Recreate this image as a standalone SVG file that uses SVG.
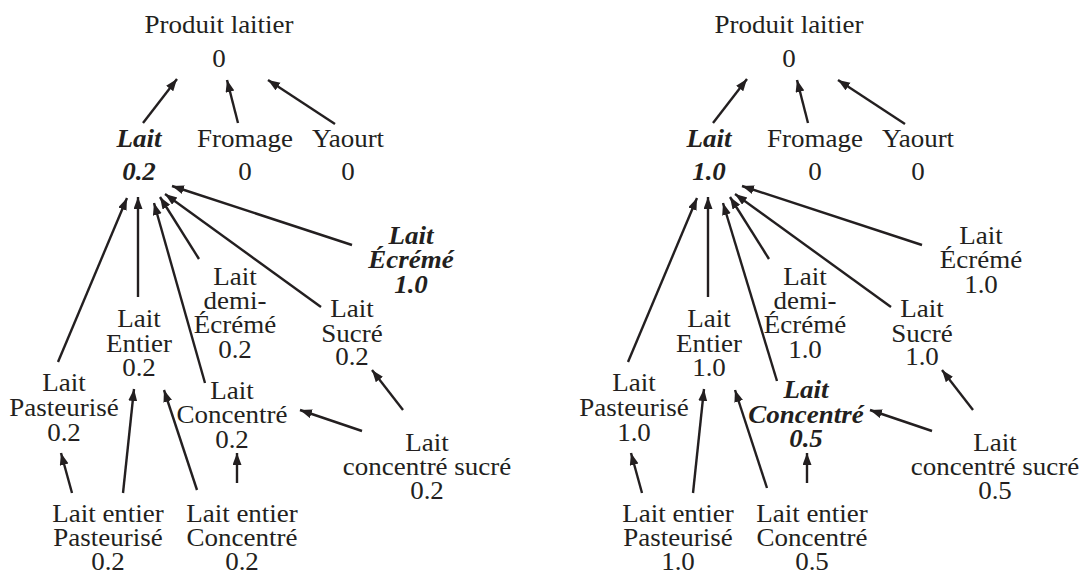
<svg xmlns="http://www.w3.org/2000/svg" width="1082" height="575" viewBox="0 0 1082 575">
<style>
.t{font-family:"Liberation Serif","Times New Roman",serif;font-size:25px;fill:#231f20;text-anchor:middle}
.bi{font-weight:bold;font-style:italic}
.e{stroke:#231f20;stroke-width:2.4;fill:none;marker-end:url(#ah)}
</style>
<defs>
<marker id="ah" markerUnits="userSpaceOnUse" markerWidth="13" markerHeight="10" refX="12" refY="4.5" orient="auto">
<path d="M0,0 L12,4.5 L0,9 z" fill="#231f20"/>
</marker>
</defs>
<rect width="1082" height="575" fill="#fff"/>
<g id="connectors">
<line class="e" x1="143" y1="123" x2="177" y2="79"/>
<line class="e" x1="238" y1="123" x2="227" y2="80"/>
<line class="e" x1="335" y1="124" x2="268" y2="80"/>
<line class="e" x1="58" y1="362" x2="127" y2="198"/>
<line class="e" x1="138" y1="297" x2="138" y2="197"/>
<line class="e" x1="205" y1="383" x2="154" y2="203"/>
<line class="e" x1="199" y1="259" x2="160" y2="197"/>
<line class="e" x1="321" y1="307" x2="165" y2="194"/>
<line class="e" x1="352" y1="245" x2="172" y2="186"/>
<line class="e" x1="72" y1="493" x2="61" y2="453"/>
<line class="e" x1="123" y1="493" x2="134" y2="389"/>
<line class="e" x1="197" y1="490" x2="164" y2="390"/>
<line class="e" x1="237" y1="483" x2="237" y2="453"/>
<line class="e" x1="362" y1="431" x2="300" y2="410"/>
<line class="e" x1="403" y1="410" x2="372" y2="370"/>
<line class="e" x1="713" y1="123" x2="747" y2="79"/>
<line class="e" x1="808" y1="123" x2="797" y2="80"/>
<line class="e" x1="905" y1="124" x2="838" y2="80"/>
<line class="e" x1="628" y1="362" x2="697" y2="198"/>
<line class="e" x1="708" y1="297" x2="708" y2="197"/>
<line class="e" x1="777" y1="381" x2="723" y2="203"/>
<line class="e" x1="769" y1="259" x2="730" y2="197"/>
<line class="e" x1="891" y1="307" x2="735" y2="194"/>
<line class="e" x1="922" y1="245" x2="742" y2="186"/>
<line class="e" x1="642" y1="493" x2="631" y2="453"/>
<line class="e" x1="693" y1="493" x2="704" y2="389"/>
<line class="e" x1="767" y1="488" x2="735" y2="390"/>
<line class="e" x1="807" y1="483" x2="807" y2="453"/>
<line class="e" x1="932" y1="431" x2="870" y2="410"/>
<line class="e" x1="973" y1="410" x2="942" y2="370"/>
</g>
<g id="L-produit" transform="translate(219 0) scale(1.08 1)"><text class="t"><tspan x="0" y="33">Produit laitier</tspan><tspan x="0" y="67">0</tspan></text></g>
<g id="L-lait" transform="translate(139 0) scale(1.08 1)"><text class="t bi"><tspan x="0" y="147">Lait</tspan><tspan x="0" y="180">0.2</tspan></text></g>
<g id="L-fromage" transform="translate(245 0) scale(1.08 1)"><text class="t"><tspan x="0" y="147">Fromage</tspan><tspan x="0" y="180">0</tspan></text></g>
<g id="L-yaourt" transform="translate(348 0) scale(1.08 1)"><text class="t"><tspan x="0" y="147">Yaourt</tspan><tspan x="0" y="180">0</tspan></text></g>
<g id="L-ecreme" transform="translate(411 0) scale(1.08 1)"><text class="t bi"><tspan x="0" y="244">Lait</tspan><tspan x="0" y="268">Écrémé</tspan><tspan x="0" y="293">1.0</tspan></text></g>
<g id="L-demi" transform="translate(235 0) scale(1.08 1)"><text class="t"><tspan x="0" y="285">Lait</tspan><tspan x="0" y="309">demi-</tspan><tspan x="0" y="333">Écrémé</tspan><tspan x="0" y="358">0.2</tspan></text></g>
<g id="L-sucre" transform="translate(352 0) scale(1.08 1)"><text class="t"><tspan x="0" y="317">Lait</tspan><tspan x="0" y="342">Sucré</tspan><tspan x="0" y="365">0.2</tspan></text></g>
<g id="L-entier" transform="translate(139 0) scale(1.08 1)"><text class="t"><tspan x="0" y="327">Lait</tspan><tspan x="0" y="352">Entier</tspan><tspan x="0" y="376">0.2</tspan></text></g>
<g id="L-pasteurise" transform="translate(64 0) scale(1.08 1)"><text class="t"><tspan x="0" y="391">Lait</tspan><tspan x="0" y="416">Pasteurisé</tspan><tspan x="0" y="441">0.2</tspan></text></g>
<g id="L-concentre" transform="translate(232 0) scale(1.08 1)"><text class="t"><tspan x="0" y="399">Lait</tspan><tspan x="0" y="423">Concentré</tspan><tspan x="0" y="448">0.2</tspan></text></g>
<g id="L-concsucre" transform="translate(427 0) scale(1.08 1)"><text class="t"><tspan x="0" y="451">Lait</tspan><tspan x="0" y="475">concentré sucré</tspan><tspan x="0" y="499">0.2</tspan></text></g>
<g id="L-entpast" transform="translate(108 0) scale(1.08 1)"><text class="t"><tspan x="0" y="522">Lait entier</tspan><tspan x="0" y="546">Pasteurisé</tspan><tspan x="0" y="570">0.2</tspan></text></g>
<g id="L-entconc" transform="translate(242 0) scale(1.08 1)"><text class="t"><tspan x="0" y="522">Lait entier</tspan><tspan x="0" y="546">Concentré</tspan><tspan x="0" y="570">0.2</tspan></text></g>
<g id="R-produit" transform="translate(789 0) scale(1.08 1)"><text class="t"><tspan x="0" y="33">Produit laitier</tspan><tspan x="0" y="67">0</tspan></text></g>
<g id="R-lait" transform="translate(709 0) scale(1.08 1)"><text class="t bi"><tspan x="0" y="147">Lait</tspan><tspan x="0" y="180">1.0</tspan></text></g>
<g id="R-fromage" transform="translate(815 0) scale(1.08 1)"><text class="t"><tspan x="0" y="147">Fromage</tspan><tspan x="0" y="180">0</tspan></text></g>
<g id="R-yaourt" transform="translate(918 0) scale(1.08 1)"><text class="t"><tspan x="0" y="147">Yaourt</tspan><tspan x="0" y="180">0</tspan></text></g>
<g id="R-ecreme" transform="translate(981 0) scale(1.08 1)"><text class="t"><tspan x="0" y="244">Lait</tspan><tspan x="0" y="268">Écrémé</tspan><tspan x="0" y="293">1.0</tspan></text></g>
<g id="R-demi" transform="translate(805 0) scale(1.08 1)"><text class="t"><tspan x="0" y="285">Lait</tspan><tspan x="0" y="309">demi-</tspan><tspan x="0" y="333">Écrémé</tspan><tspan x="0" y="358">1.0</tspan></text></g>
<g id="R-sucre" transform="translate(922 0) scale(1.08 1)"><text class="t"><tspan x="0" y="317">Lait</tspan><tspan x="0" y="342">Sucré</tspan><tspan x="0" y="365">1.0</tspan></text></g>
<g id="R-entier" transform="translate(709 0) scale(1.08 1)"><text class="t"><tspan x="0" y="327">Lait</tspan><tspan x="0" y="352">Entier</tspan><tspan x="0" y="376">1.0</tspan></text></g>
<g id="R-pasteurise" transform="translate(634 0) scale(1.08 1)"><text class="t"><tspan x="0" y="391">Lait</tspan><tspan x="0" y="416">Pasteurisé</tspan><tspan x="0" y="441">1.0</tspan></text></g>
<g id="R-concentre" transform="translate(806 0) scale(1.08 1)"><text class="t bi"><tspan x="0" y="398">Lait</tspan><tspan x="0" y="423">Concentré</tspan><tspan x="0" y="447">0.5</tspan></text></g>
<g id="R-concsucre" transform="translate(995 0) scale(1.08 1)"><text class="t"><tspan x="0" y="451">Lait</tspan><tspan x="0" y="475">concentré sucré</tspan><tspan x="0" y="499">0.5</tspan></text></g>
<g id="R-entpast" transform="translate(678 0) scale(1.08 1)"><text class="t"><tspan x="0" y="522">Lait entier</tspan><tspan x="0" y="546">Pasteurisé</tspan><tspan x="0" y="570">1.0</tspan></text></g>
<g id="R-entconc" transform="translate(812 0) scale(1.08 1)"><text class="t"><tspan x="0" y="522">Lait entier</tspan><tspan x="0" y="546">Concentré</tspan><tspan x="0" y="570">0.5</tspan></text></g>
</svg>
